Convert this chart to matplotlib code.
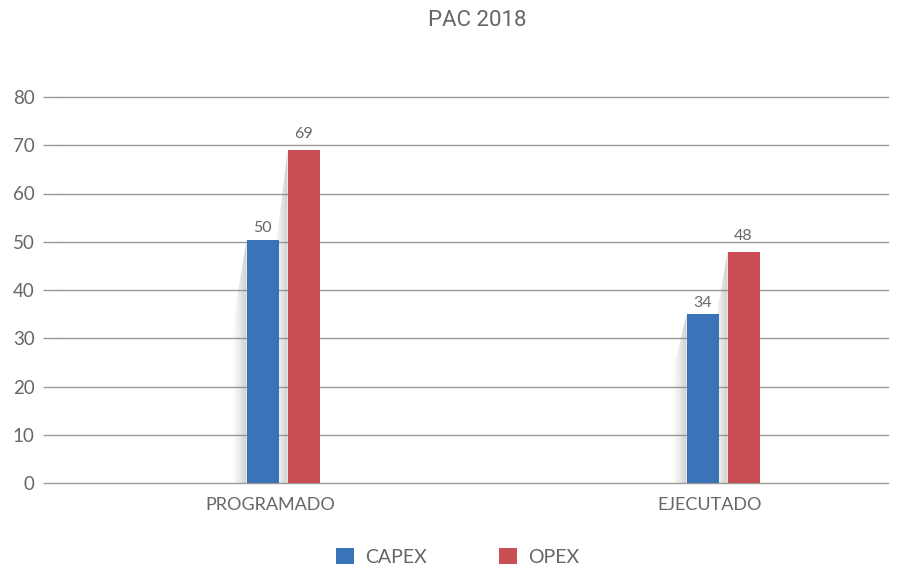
import numpy as np
import matplotlib
matplotlib.use("Agg")
import matplotlib.pyplot as plt
from matplotlib.patches import Polygon, Patch

categories = ["PROGRAMADO", "EJECUTADO"]
capex = [50.4, 35.0]
opex = [69.0, 47.9]
capex_labels = ["50", "34"]
opex_labels = ["69", "48"]
title = "PAC 2018"

BLUE = "#3b73b9"
RED = "#c94f54"
GREY_TXT = "#666666"
GRID = "#9a9a9a"

plt.rcParams["font.family"] = ["Lato", "DejaVu Sans"]

fig = plt.figure(figsize=(9.02, 5.70), dpi=100)
W, H = 902, 570
left_px = 60
ax = fig.add_axes([left_px / W, 87 / H, (888 - left_px) / W, (483 - 97) / H])

# pixel geometry mapped into data units (440 px per category step)
ppu = 440.0
x0 = 270.0
ax.set_xlim((left_px - x0) / ppu, (888 - x0) / ppu)
ax.set_ylim(0, 80)

bw = 32 / ppu
gap = 9 / ppu
off = 13 / ppu
xs = np.arange(len(categories))
cx = xs + off
blue_x = cx - (gap / 2 + bw / 2)
red_x = cx + (gap / 2 + bw / 2)

# soft shadow to the left of each bar
sw = 15 / ppu
grad = np.zeros((2, 256, 4))
grad[..., :3] = 0.5
grad[..., 3] = np.linspace(0.0, 0.45, 256) ** 1.2


def shadow(left, top, frac):
    poly = Polygon([(left, top), (left - sw, top * frac), (left - sw, 0), (left, 0)],
                   closed=True, facecolor="none", edgecolor="none")
    ax.add_patch(poly)
    im = ax.imshow(grad, extent=(left - sw, left, 0, top), aspect="auto",
                   origin="lower", zorder=1.5, interpolation="bilinear")
    im.set_clip_path(poly)


for i in range(len(categories)):
    shadow(blue_x[i] - bw / 2, capex[i], 0.62)
    shadow(red_x[i] - bw / 2, opex[i], 0.62)

ax.bar(blue_x, capex, width=bw, color=BLUE, zorder=3)
ax.bar(red_x, opex, width=bw, color=RED, zorder=3)

for i in range(len(categories)):
    ax.text(blue_x[i], capex[i] + 0.9, capex_labels[i], ha="center", va="bottom",
            fontsize=11.5, color=GREY_TXT, zorder=4)
    ax.text(red_x[i], opex[i] + 1.9, opex_labels[i], ha="center", va="bottom",
            fontsize=11.5, color=GREY_TXT, zorder=4)

ax.set_yticks(np.arange(0, 81, 10))
for v in np.arange(0, 81, 10):
    ax.axhline(v, color=GRID, linewidth=1.0, zorder=0, clip_on=False)
for s in ax.spines.values():
    s.set_visible(False)
ax.tick_params(axis="y", length=12.2, width=1.0, color=GRID, pad=6,
               labelsize=13.5, labelcolor=GREY_TXT)
ax.set_xticks(xs)
ax.set_xticklabels(categories)
ax.tick_params(axis="x", length=0, pad=10, labelsize=13, labelcolor=GREY_TXT)

fig.text(477 / W, 1 - 20 / H, title, ha="center", va="center", fontsize=16,
         color=GREY_TXT, family=["Roboto", "DejaVu Sans"])

handles = [Patch(facecolor=BLUE, label="CAPEX"), Patch(facecolor=RED, label="OPEX")]
fig.legend(handles=handles, loc="center", bbox_to_anchor=(458 / W, 1 - 557 / H),
           ncol=2, frameon=False, fontsize=14, handlelength=0.9, handleheight=0.9,
           columnspacing=3.7, handletextpad=0.6, labelcolor=GREY_TXT)

fig.savefig("out.png", dpi=100)
